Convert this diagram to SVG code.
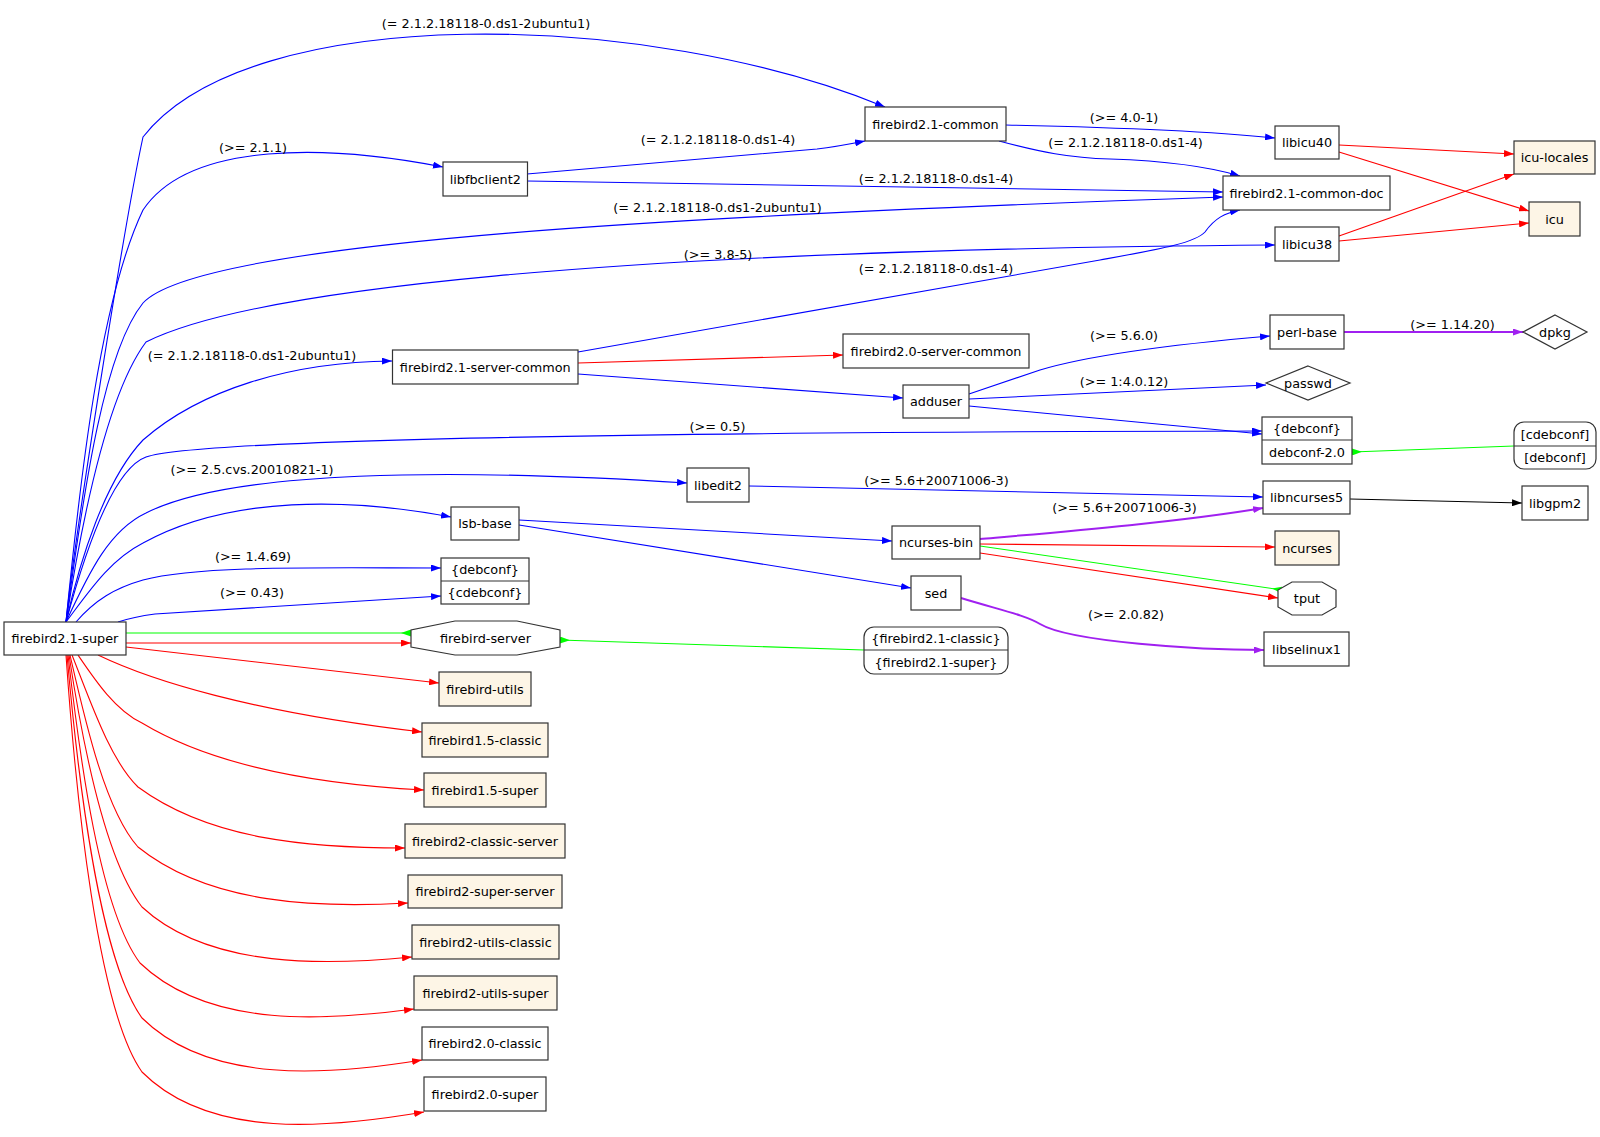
<svg xmlns="http://www.w3.org/2000/svg" width="1600" height="1137" viewBox="0 0 1600 1137">
<style>
  .bg { fill: #ffffff; }
  .node rect, .node polygon { fill: #ffffff; stroke: #333333; stroke-width: 1.2; }
  .node.beige rect { fill: #fdf5e6; }
  .node line { stroke: #333333; stroke-width: 1.2; }
  text { font-family: "DejaVu Sans", "Liberation Sans", sans-serif; font-size: 12.8px; fill: #000000; }
  .node text { text-anchor: middle; }
  .lbl { text-anchor: middle; }
  .e { fill: none; stroke-width: 1.1; }
  .blue { stroke: #0000ff; marker-end: url(#ab); }
  .red { stroke: #ff0000; marker-end: url(#ar); }
  .purple { stroke: #a020f0; stroke-width: 2; marker-end: url(#ap); }
  .black { stroke: #000000; marker-end: url(#ak); }
  .green { stroke: #00ff00; marker-start: url(#ag); }
</style>
<defs>
  <marker id="ab" markerUnits="userSpaceOnUse" viewBox="0 0 10 7" markerWidth="10" markerHeight="7" refX="10" refY="3.5" orient="auto"><path d="M0,0 L10,3.5 L0,7 z" fill="#0000ff"/></marker>
  <marker id="ar" markerUnits="userSpaceOnUse" viewBox="0 0 10 7" markerWidth="10" markerHeight="7" refX="10" refY="3.5" orient="auto"><path d="M0,0 L10,3.5 L0,7 z" fill="#ff0000"/></marker>
  <marker id="ap" markerUnits="userSpaceOnUse" viewBox="0 0 10 7" markerWidth="10" markerHeight="7" refX="10" refY="3.5" orient="auto"><path d="M0,0 L10,3.5 L0,7 z" fill="#a020f0"/></marker>
  <marker id="ak" markerUnits="userSpaceOnUse" viewBox="0 0 10 7" markerWidth="10" markerHeight="7" refX="10" refY="3.5" orient="auto"><path d="M0,0 L10,3.5 L0,7 z" fill="#000000"/></marker>
  <marker id="ag" markerUnits="userSpaceOnUse" viewBox="0 0 10 7" markerWidth="10" markerHeight="7" refX="0" refY="3.5" orient="auto"><path d="M0,0 L10,3.5 L0,7 z" fill="#00ff00"/></marker>
</defs>
<rect class="bg" x="0" y="0" width="1600" height="1137"/>

<g id="edges">
  <!-- from firebird2.1-super, blue -->
  <path class="e blue" d="M66,622 C74,540 125,220 143,137 C250,0 650,10 885,107"/>
  <path class="e blue" d="M66,622 C80,480 100,300 143,210 C190,140 330,145 443,167"/>
  <path class="e blue" d="M66,622 C85,480 105,350 143,303 C200,240 700,215 1223,197"/>
  <path class="e blue" d="M66,622 C85,500 110,390 146,342 C250,290 600,250 1275,245"/>
  <path class="e blue" d="M66,622 C80,560 105,480 143,440 C200,390 290,362 392,361"/>
  <path class="e blue" d="M66,622 C80,570 110,470 146,457 C200,438 700,432 1262,431"/>
  <path class="e blue" d="M66,622 C90,570 110,530 146,513 C230,470 450,468 687,483"/>
  <path class="e blue" d="M66,622 C90,590 110,560 143,543 C230,495 350,498 451,517"/>
  <path class="e blue" d="M76,622 C95,600 115,588 143,580 C200,565 320,568 441,568"/>
  <path class="e blue" d="M118,622 C130,618 140,616 155,614 L441,596"/>
  <!-- green provides -->
  <path class="e green" d="M411,633 L126,633"/>
  <!-- red conflicts -->
  <path class="e red" d="M126,643 L411,643"/>
  <path class="e red" d="M126,647 L439,683"/>
  <path class="e red" d="M98,655 C150,680 250,712 422,732"/>
  <path class="e red" d="M78,655 C95,680 115,710 142,723 C220,770 330,785 424,790"/>
  <path class="e red" d="M72,655 C90,700 110,760 138,787 C210,840 310,848 405,848"/>
  <path class="e red" d="M70,655 C85,720 105,810 138,847 C210,905 320,908 408,903"/>
  <path class="e red" d="M69,655 C82,740 105,860 142,907 C210,970 330,965 412,957"/>
  <path class="e red" d="M68,655 C80,760 100,910 140,963 C210,1030 330,1020 414,1009"/>
  <path class="e red" d="M67,655 C78,780 100,960 142,1018 C210,1085 330,1075 422,1060"/>
  <path class="e red" d="M66,655 C76,800 98,1010 142,1072 C210,1140 330,1128 424,1112"/>
  <!-- others -->
  <path class="e blue" d="M527,174 L817,149 C835,147 850,144 865,141"/>
  <path class="e blue" d="M527,181 L1223,192"/>
  <path class="e blue" d="M1006,125 C1100,127 1200,130 1275,138"/>
  <path class="e blue" d="M999,141 C1040,152 1070,158 1110,159 C1170,161 1210,167 1240,176"/>
  <path class="e blue" d="M578,352 L1100,260 C1160,249 1195,243 1205,232 C1215,218 1225,213 1240,210"/>
  <path class="e red" d="M578,363 L843,355"/>
  <path class="e blue" d="M578,374 L903,398"/>
  <path class="e blue" d="M969,394 L1040,370 C1100,352 1200,342 1270,336"/>
  <path class="e blue" d="M969,399 L1266,385"/>
  <path class="e blue" d="M969,406 L1262,434"/>
  <path class="e purple" d="M1344,332 L1523,332"/>
  <path class="e green" d="M1352,452 L1514,446"/>
  <path class="e blue" d="M749,486 L1263,497"/>
  <path class="e blue" d="M519,520 L892,541"/>
  <path class="e blue" d="M519,525 L911,588"/>
  <path class="e purple" d="M980,539 C1060,532 1180,522 1263,508"/>
  <path class="e red" d="M980,544 L1275,547"/>
  <path class="e green" d="M1282,590 L980,546"/>
  <path class="e red" d="M980,553 L1278,598"/>
  <path class="e purple" d="M961,598 C1000,610 1025,615 1040,624 C1070,642 1200,650 1264,650"/>
  <path class="e black" d="M1350,499 L1522,503"/>
  <path class="e red" d="M1339,145 L1514,154"/>
  <path class="e red" d="M1339,152 L1529,211"/>
  <path class="e red" d="M1339,236 L1514,174"/>
  <path class="e red" d="M1339,241 L1529,223"/>
  <path class="e green" d="M560,640 L864,650"/>
  <!-- edge labels -->
  <text class="lbl" x="486" y="28">(= 2.1.2.18118-0.ds1-2ubuntu1)</text>
  <text class="lbl" x="253" y="152">(&gt;= 2.1.1)</text>
  <text class="lbl" x="252" y="360">(= 2.1.2.18118-0.ds1-2ubuntu1)</text>
  <text class="lbl" x="718" y="143.5">(= 2.1.2.18118-0.ds1-4)</text>
  <text class="lbl" x="936" y="183">(= 2.1.2.18118-0.ds1-4)</text>
  <text class="lbl" x="717.5" y="212">(= 2.1.2.18118-0.ds1-2ubuntu1)</text>
  <text class="lbl" x="718" y="258.5">(&gt;= 3.8-5)</text>
  <text class="lbl" x="936" y="272.5">(= 2.1.2.18118-0.ds1-4)</text>
  <text class="lbl" x="1124" y="122">(&gt;= 4.0-1)</text>
  <text class="lbl" x="1125.5" y="146.5">(= 2.1.2.18118-0.ds1-4)</text>
  <text class="lbl" x="1452.5" y="328.5">(&gt;= 1.14.20)</text>
  <text class="lbl" x="1124" y="339.5">(&gt;= 5.6.0)</text>
  <text class="lbl" x="1124" y="385.5">(&gt;= 1:4.0.12)</text>
  <text class="lbl" x="717.5" y="430.5">(&gt;= 0.5)</text>
  <text class="lbl" x="936.5" y="485">(&gt;= 5.6+20071006-3)</text>
  <text class="lbl" x="1124.5" y="511.5">(&gt;= 5.6+20071006-3)</text>
  <text class="lbl" x="252" y="473.5">(&gt;= 2.5.cvs.20010821-1)</text>
  <text class="lbl" x="253" y="561">(&gt;= 1.4.69)</text>
  <text class="lbl" x="252" y="596.5">(&gt;= 0.43)</text>
  <text class="lbl" x="1126" y="619">(&gt;= 2.0.82)</text>
</g>

<g id="n-firebird2.1-super" class="node"><rect x="4" y="622" width="122" height="33"/><text x="65" y="643">firebird2.1-super</text></g>
<g id="n-libfbclient2" class="node"><rect x="443" y="162" width="84.5" height="34"/><text x="485.25" y="183.5">libfbclient2</text></g>
<g id="n-firebird2.1-common" class="node"><rect x="865" y="107" width="141" height="34"/><text x="935.5" y="128.5">firebird2.1-common</text></g>
<g id="n-firebird2.1-common-doc" class="node"><rect x="1223" y="176" width="167" height="34"/><text x="1306.5" y="197.5">firebird2.1-common-doc</text></g>
<g id="n-libicu40" class="node"><rect x="1275" y="126" width="64" height="33"/><text x="1307" y="147">libicu40</text></g>
<g id="n-libicu38" class="node"><rect x="1275" y="227" width="64" height="34"/><text x="1307" y="248.5">libicu38</text></g>
<g id="n-icu-locales" class="node beige"><rect x="1514" y="141" width="81" height="33"/><text x="1554.5" y="162">icu-locales</text></g>
<g id="n-icu" class="node beige"><rect x="1529" y="202" width="51" height="34"/><text x="1554.5" y="223.5">icu</text></g>
<g id="n-perl-base" class="node"><rect x="1270" y="315" width="74" height="34"/><text x="1307" y="336.5">perl-base</text></g>
<g id="n-dpkg" class="node"><polygon points="1555,315 1587,332 1555,349 1523,332"/><text x="1555" y="336.5">dpkg</text></g>
<g id="n-passwd" class="node"><polygon points="1308,366 1350,383 1308,400 1266,383"/><text x="1308" y="387.5">passwd</text></g>
<g id="n-firebird2.1-server-common" class="node"><rect x="392.5" y="350" width="185.5" height="34"/><text x="485.25" y="371.5">firebird2.1-server-common</text></g>
<g id="n-firebird2.0-server-common" class="node"><rect x="843" y="334" width="186" height="34"/><text x="936" y="355.5">firebird2.0-server-common</text></g>
<g id="n-adduser" class="node"><rect x="903" y="385" width="66" height="33"/><text x="936" y="406">adduser</text></g>
<g id="n-debconf-2.0" class="node"><rect x="1262" y="417" width="90" height="47"/><line x1="1262" y1="440" x2="1352" y2="440"/><text x="1307" y="433">{debconf}</text><text x="1307" y="456.5">debconf-2.0</text></g>
<g id="n-cdebconf-debconf" class="node"><rect x="1514" y="422" width="82" height="47" rx="10" ry="10"/><line x1="1514" y1="446" x2="1596" y2="446"/><text x="1555" y="438.5">[cdebconf]</text><text x="1555" y="462">[debconf]</text></g>
<g id="n-libedit2" class="node"><rect x="687" y="468" width="62" height="34"/><text x="718" y="489.5">libedit2</text></g>
<g id="n-libncurses5" class="node"><rect x="1263" y="481" width="87" height="33"/><text x="1306.5" y="502">libncurses5</text></g>
<g id="n-libgpm2" class="node"><rect x="1522" y="486" width="66" height="34"/><text x="1555" y="507.5">libgpm2</text></g>
<g id="n-lsb-base" class="node"><rect x="451" y="507" width="68" height="33"/><text x="485" y="528">lsb-base</text></g>
<g id="n-ncurses-bin" class="node"><rect x="892" y="526" width="88" height="33"/><text x="936" y="547">ncurses-bin</text></g>
<g id="n-ncurses" class="node beige"><rect x="1275" y="531" width="64" height="34"/><text x="1307" y="552.5">ncurses</text></g>
<g id="n-debconf-cdebconf" class="node"><rect x="441" y="558" width="88" height="46"/><line x1="441" y1="581" x2="529" y2="581"/><text x="485" y="574">{debconf}</text><text x="485" y="597">{cdebconf}</text></g>
<g id="n-sed" class="node"><rect x="911" y="576" width="50" height="34"/><text x="936" y="597.5">sed</text></g>
<g id="n-tput" class="node"><polygon points="1292,582 1322,582 1336,590 1336,607 1322,615 1292,615 1278,607 1278,590"/><text x="1307" y="603">tput</text></g>
<g id="n-firebird-server" class="node"><polygon points="455,621 517,621 560,630 560,647 517,655 455,655 411,647 411,630"/><text x="485.5" y="642.5">firebird-server</text></g>
<g id="n-libselinux1" class="node"><rect x="1264" y="632" width="85" height="34"/><text x="1306.5" y="653.5">libselinux1</text></g>
<g id="n-firebird2.1-classic-super" class="node"><rect x="864" y="627" width="144" height="47" rx="10" ry="10"/><line x1="864" y1="650" x2="1008" y2="650"/><text x="936" y="643">{firebird2.1-classic}</text><text x="936" y="666.5">{firebird2.1-super}</text></g>
<g id="n-firebird-utils" class="node beige"><rect x="439" y="672" width="92" height="34"/><text x="485" y="693.5">firebird-utils</text></g>
<g id="n-firebird1.5-classic" class="node beige"><rect x="422" y="723" width="126" height="34"/><text x="485" y="744.5">firebird1.5-classic</text></g>
<g id="n-firebird1.5-super" class="node beige"><rect x="424" y="773" width="122" height="34"/><text x="485" y="794.5">firebird1.5-super</text></g>
<g id="n-firebird2-classic-server" class="node beige"><rect x="405" y="824" width="160" height="34"/><text x="485" y="845.5">firebird2-classic-server</text></g>
<g id="n-firebird2-super-server" class="node beige"><rect x="408" y="875" width="154" height="33"/><text x="485" y="896">firebird2-super-server</text></g>
<g id="n-firebird2-utils-classic" class="node beige"><rect x="412" y="925" width="147" height="34"/><text x="485.5" y="946.5">firebird2-utils-classic</text></g>
<g id="n-firebird2-utils-super" class="node beige"><rect x="414" y="976" width="143" height="34"/><text x="485.5" y="997.5">firebird2-utils-super</text></g>
<g id="n-firebird2.0-classic" class="node"><rect x="422" y="1027" width="126" height="33"/><text x="485" y="1048">firebird2.0-classic</text></g>
<g id="n-firebird2.0-super" class="node"><rect x="424" y="1077" width="122" height="34"/><text x="485" y="1098.5">firebird2.0-super</text></g>
</svg>
